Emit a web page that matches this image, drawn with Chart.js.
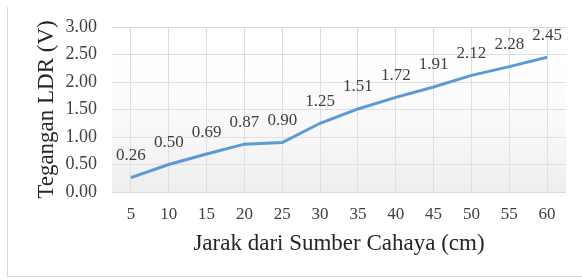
<!DOCTYPE html>
<html>
<head>
<meta charset="utf-8">
<script src="https://cdn.jsdelivr.net/npm/chart.js@4/dist/chart.umd.min.js"></script>
<style>
  html, body { margin: 0; padding: 0; background: #fff; }
  #wrap { position: relative; width: 582px; height: 280px; overflow: hidden; }
  #frame { position: absolute; left: 7px; top: 7px; width: 600px; height: 270px; border-left: 1px solid #d9d9d9; border-bottom: 1px solid #d9d9d9; box-sizing: border-box; pointer-events: none; }
</style>
</head>
<body>
<div id="wrap">
  <canvas id="grafico" width="582" height="280"></canvas>
  <div id="frame"></div>
</div>
<script>
const jarak = ['5', '10', '15', '20', '25', '30', '35', '40', '45', '50', '55', '60'];
const tegangan = [0.26, 0.50, 0.69, 0.87, 0.90, 1.25, 1.51, 1.72, 1.91, 2.12, 2.28, 2.45];
const yTicks = [0, 0.5, 1, 1.5, 2, 2.5, 3];

const fonte = 'Liberation Serif';

// fundo degradê da área do gráfico
const fundo = {
    id: 'fundo',
    beforeDatasetsDraw(chart) {
        const a = chart.chartArea;
        const c = chart.ctx;
        const g = c.createLinearGradient(0, a.top, 0, a.bottom);
        g.addColorStop(0, 'rgba(255,255,255,0)');
        g.addColorStop(1, 'rgba(225,225,225,0.6)');
        c.save();
        c.fillStyle = g;
        c.fillRect(a.left, a.top, a.right - a.left, a.bottom - a.top);
        c.restore();
    }
};

// rótulos de valor acima dos pontos
const rotulos = {
    id: 'rotulos',
    afterDatasetsDraw(chart) {
        const c = chart.ctx;
        const meta = chart.getDatasetMeta(0);
        c.save();
        c.font = '17px "' + fonte + '"';
        c.fillStyle = '#404040';
        c.textAlign = 'center';
        c.textBaseline = 'middle';
        meta.data.forEach((p, i) => {
            c.fillText(tegangan[i].toFixed(2), p.x, p.y - 22);
        });
        c.restore();
    }
};

const ctx = document.getElementById('grafico').getContext('2d');

let grafico = new Chart(ctx, {
    type: 'line',
    data: {
        labels: jarak,
        datasets: [{
            data: tegangan,
            borderColor: '#5B9BD5',
            borderWidth: 3,
            pointRadius: 0,
            tension: 0,
            fill: false
        }]
    },
    options: {
        responsive: false,
        animation: false,
        layout: { padding: { left: 33, top: 27, right: 16, bottom: 22 } },
        plugins: {
            legend: { display: false },
            tooltip: { enabled: false }
        },
        scales: {
            x: {
                offset: true,
                grid: { color: '#d9d9d9', drawTicks: false, offset: false },
                border: { display: false },
                ticks: { color: '#404040', font: { family: fonte, size: 17 }, padding: 12, maxRotation: 0 },
                title: { display: true, text: 'Jarak dari Sumber Cahaya (cm)', color: '#262626', font: { family: fonte, size: 23 }, padding: { top: 2, bottom: 0 } },
                afterFit(s) { s.height = 66; }
            },
            y: {
                min: 0,
                max: 3,
                afterBuildTicks(s) { s.ticks = yTicks.map(v => ({ value: v })); },
                grid: { color: '#d9d9d9', drawTicks: false },
                border: { display: false },
                ticks: {
                    color: '#404040',
                    font: { family: fonte, size: 18 },
                    padding: 15,
                    callback: v => v.toFixed(2)
                },
                title: { display: true, text: 'Tegangan LDR (V)', color: '#262626', font: { family: fonte, size: 23 }, padding: { top: 0, bottom: 2 } },
                afterFit(s) { s.width = 79; }
            }
        }
    },
    plugins: [fundo, rotulos]
});
</script>
</body>
</html>
